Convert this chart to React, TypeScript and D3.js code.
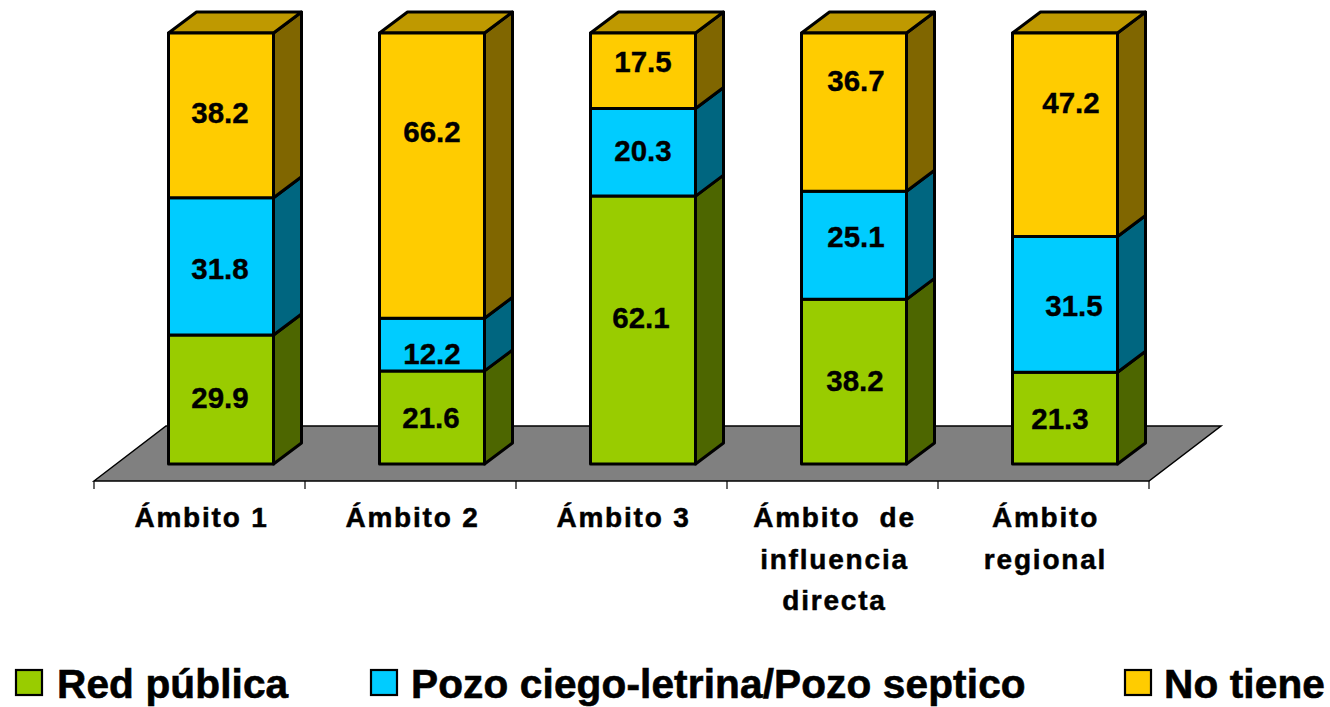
import React from 'react';
import * as d3 from 'd3';

const categories = ['Ámbito 1', 'Ámbito 2', 'Ámbito 3', 'Ámbito de influencia directa', 'Ámbito regional'];
const tickLines = [['Ámbito 1'], ['Ámbito 2'], ['Ámbito 3'], ['Ámbito  de', 'influencia', 'directa'], ['Ámbito', 'regional']];
const redPublica = [29.9, 21.6, 62.1, 38.2, 21.3];
const pozoCiego = [31.8, 12.2, 20.3, 25.1, 31.5];
const noTiene = [38.2, 66.2, 17.5, 36.7, 47.2];

const seriesNames = ['Red pública', 'Pozo ciego-letrina/Pozo septico', 'No tiene'];
const seriesValues = [redPublica, pozoCiego, noTiene];

// [front, side, top] for each series
const colors = [
  ['#99CC00', '#4D6600', '#739900'],
  ['#00CCFF', '#006680', '#0099BF'],
  ['#FFCC00', '#806600', '#BF9900'],
];

// the labels were moved by hand in the original: [dx, dy] from segment centre
const labelNudges = [
  [[-1, -2], [-1, 2], [-1, -3]],
  [[-1, 0], [0, 9], [0, -44]],
  [[-2, -13], [0, -2], [0, -9]],
  [[1, -1], [2, -9], [2, -32]],
  [[-5, 0], [9, 1], [6, -32]],
];

const legendSwatchX = [16, 371, 1125];
const legendTextX = [57, 411, 1164];

const W = 1330;
const H = 707;
const floorY = 481;
const floorBackY = 426;
const floorDx = 72;
const barBottom = 464;
const barTop = 33;
const depthX = 28;
const depthY = 21;
const barW = 105;

const x = d3.scaleBand<string>().domain(categories).range([94, 1149]);
const y = d3.scaleLinear().domain([0, 1]).range([barBottom, barTop]);

const rows = categories.map((c, i) => ({
  cat: c,
  s0: seriesValues[0][i],
  s1: seriesValues[1][i],
  s2: seriesValues[2][i],
}));
const stacked = d3.stack<any>().keys(['s0', 's1', 's2']).offset(d3.stackOffsetExpand)(rows);

const barLeft = (c: string) => x(c)! + x.bandwidth() / 2 + 21.5 - barW / 2;

const poly = (pts: number[][]) => d3.line()(pts as [number, number][]) + 'Z';

const App = () => {
  const floor = poly([
    [94, floorY],
    [94 + floorDx, floorBackY],
    [1149 + floorDx, floorBackY],
    [1149, floorY],
  ]);
  const ticks = [...categories.map(c => x(c)!), 1149];

  return (
    <svg width={W} height={H} style={{ position: 'absolute', left: 0, top: 0, background: '#fff' }}
      fontFamily="'Liberation Sans', Arial, sans-serif" fontWeight="bold">
      <path d={floor} fill="#808080" stroke="#000" strokeWidth={1.5} />
      {ticks.map((t, i) => (
        <line key={i} x1={t} x2={t} y1={floorY} y2={floorY + 8} stroke="#000" strokeWidth={1.2} />
      ))}

      {categories.map((c, ci) => {
        const l = barLeft(c);
        const r = l + barW;
        return (
          <g key={c}>
            {stacked.map((s, si) => {
              const y0 = y(s[ci][0]);
              const y1 = y(s[ci][1]);
              return (
                <g key={si} stroke="#000" strokeWidth={3} strokeLinejoin="round">
                  <path d={poly([[r, y0], [r + depthX, y0 - depthY], [r + depthX, y1 - depthY], [r, y1]])} fill={colors[si][1]} />
                  {si === 2 && (
                    <path d={poly([[l, y1], [l + depthX, y1 - depthY], [r + depthX, y1 - depthY], [r, y1]])} fill={colors[si][2]} />
                  )}
                  <rect x={l} y={y1} width={barW} height={y0 - y1} fill={colors[si][0]} />
                </g>
              );
            })}
            {stacked.map((s, si) => (
              <text key={si}
                x={l + barW / 2 + labelNudges[ci][si][0]}
                y={(y(s[ci][0]) + y(s[ci][1])) / 2 + labelNudges[ci][si][1]}
                dy="0.36em" textAnchor="middle" fontSize={29.5} fill="#000" stroke="#000" strokeWidth={0.35}>
                {seriesValues[si][ci].toFixed(1)}
              </text>
            ))}
          </g>
        );
      })}

      {categories.map((c, ci) => (
        <text key={c} textAnchor="middle" fontSize={28} letterSpacing={1.8} fill="#000" stroke="#000" strokeWidth={0.5} xmlSpace="preserve">
          {tickLines[ci].map((line, li) => (
            <tspan key={li} x={x(c)! + x.bandwidth() / 2 + 2} y={527 + li * 41.5}>{line}</tspan>
          ))}
        </text>
      ))}

      {seriesNames.map((n, i) => (
        <g key={n}>
          <rect x={legendSwatchX[i]} y={670} width={26} height={25} fill={colors[i][0]} stroke="#000" strokeWidth={2.2} />
          <text x={legendTextX[i]} y={698} fontSize={40.6} letterSpacing={0.12} fill="#000" stroke="#000" strokeWidth={0.6}>{n}</text>
        </g>
      ))}
    </svg>
  );
};

export default App;
